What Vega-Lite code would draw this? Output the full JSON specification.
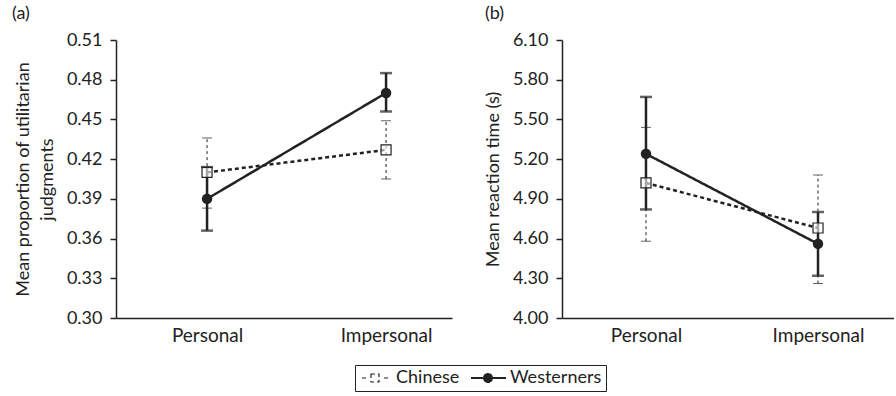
{
  "$schema": "https://vega.github.io/schema/vega-lite/v6.json",
  "padding": {"left": 12, "top": 5, "right": 0, "bottom": 0},
  "background": "white",
  "config": {
    "font": "Lato",
    "view": {"stroke": null},
    "axis": {"labelFont": "Lato", "titleFont": "Lato", "labelFontSize": 18, "titleFontSize": 18, "titleFontWeight": "normal", "labelColor": "#222", "titleColor": "#222", "domainColor": "#222", "tickColor": "#222", "domainWidth": 1.5, "tickWidth": 1.5, "grid": false, "labelOverlap": false},
    "title": {"font": "Lato", "fontSize": 18, "fontWeight": "normal", "color": "#222", "anchor": "start"},
    "legend": {"labelFont": "Lato", "labelFontSize": 18, "labelColor": "#222"}
  },
  "datasets": {
    "a": [
      {"condition": "Personal", "group": "Chinese", "mean": 0.41, "lo": 0.383, "hi": 0.436},
      {"condition": "Impersonal", "group": "Chinese", "mean": 0.427, "lo": 0.405, "hi": 0.449},
      {"condition": "Personal", "group": "Westerners", "mean": 0.39, "lo": 0.366, "hi": 0.414},
      {"condition": "Impersonal", "group": "Westerners", "mean": 0.47, "lo": 0.456, "hi": 0.485}
    ],
    "b": [
      {"condition": "Personal", "group": "Chinese", "mean": 5.02, "lo": 4.58, "hi": 5.44},
      {"condition": "Impersonal", "group": "Chinese", "mean": 4.68, "lo": 4.26, "hi": 5.08},
      {"condition": "Personal", "group": "Westerners", "mean": 5.24, "lo": 4.82, "hi": 5.67},
      {"condition": "Impersonal", "group": "Westerners", "mean": 4.56, "lo": 4.32, "hi": 4.8}
    ]
  },
  "spacing": 32,
  "hconcat": [
    {
      "width": 336,
      "height": 278,
      "title": {"text": "(a)", "dx": -104, "frame": "group", "offset": 8},
      "data": {"name": "a"},
      "encoding": {
        "x": {"field": "condition", "type": "ordinal", "sort": ["Personal", "Impersonal"], "scale": {"type": "point", "padding": 0.4385, "align": 0.58}, "axis": {"title": null, "ticks": false, "labelAngle": 0, "labelPadding": 8, "labelFontSize": 19}}
      },
      "layer": [
        {
          "mark": {"type": "line", "color": "#222", "strokeWidth": 2.5},
          "encoding": {
            "y": {"field": "mean", "type": "quantitative", "scale": {"domain": [0.3, 0.51], "zero": false, "nice": false}, "axis": {"values": [0.3, 0.33, 0.36, 0.39, 0.42, 0.45, 0.48, 0.51], "tickCount": 10, "format": ".2f", "labelOverlap": false, "tickSize": 6, "labelPadding": 8, "title": ["Mean proportion of utilitarian", "judgments"], "titlePadding": 10, "titleLineHeight": 24}},
            "strokeDash": {"field": "group", "type": "nominal", "scale": {"domain": ["Chinese", "Westerners"], "range": [[4, 3], [1, 0]]},
              "legend": {"title": null, "orient": "none", "direction": "horizontal", "legendX": 239, "legendY": 325, "strokeColor": "#222", "padding": 4, "symbolStrokeWidth": 2, "symbolStrokeColor": "#222", "columnPadding": 7, "labelOffset": 19,
                "encode": {"symbols": {"update": {
                  "size": {"value": 400},
                  "shape": {"signal": "datum.value === 'Chinese' ? 'M-0.6,0H-0.2M0.3,-0.4H1.1V0.4H0.3ZM1.6,0H2.1' : 'M-1.1,0H2.4M0.2,0A0.4,0.4,0,1,1,1,0A0.4,0.4,0,1,1,0.2,0'"},
                  "fill": {"signal": "datum.value === 'Chinese' ? 'white' : '#222'"},
                  "stroke": {"value": "#222"},
                  "strokeWidth": {"signal": "datum.value === 'Chinese' ? 1.2 : 2"}
                }}}}}
          }
        },
        {
          "transform": [{"filter": "datum.group === 'Chinese'"}],
          "mark": {"type": "rule", "color": "#222", "strokeWidth": 1, "strokeDash": [3, 3]},
          "encoding": {"y": {"field": "lo", "type": "quantitative"}, "y2": {"field": "hi"}}
        },
        {
          "transform": [{"filter": "datum.group === 'Chinese'"}, {"fold": ["lo", "hi"], "as": ["end", "val"]}],
          "mark": {"type": "tick", "color": "#222", "thickness": 1, "size": 10, "orient": "horizontal", "strokeDash": [2, 3]},
          "encoding": {"y": {"field": "val", "type": "quantitative"}}
        },
        {
          "transform": [{"filter": "datum.group === 'Westerners'"}],
          "mark": {"type": "rule", "color": "#222", "strokeWidth": 2.5},
          "encoding": {"y": {"field": "lo", "type": "quantitative"}, "y2": {"field": "hi"}}
        },
        {
          "transform": [{"filter": "datum.group === 'Westerners'"}, {"fold": ["lo", "hi"], "as": ["end", "val"]}],
          "mark": {"type": "tick", "color": "#222", "thickness": 2.5, "size": 12, "orient": "horizontal"},
          "encoding": {"y": {"field": "val", "type": "quantitative"}}
        },
        {
          "transform": [{"filter": "datum.group === 'Chinese'"}],
          "mark": {"type": "point", "shape": "square", "size": 100, "filled": false, "fill": "white", "fillOpacity": 0.6, "stroke": "#222", "strokeWidth": 1.2, "opacity": 1},
          "encoding": {"y": {"field": "mean", "type": "quantitative"}}
        },
        {
          "transform": [{"filter": "datum.group === 'Westerners'"}],
          "mark": {"type": "point", "shape": "circle", "size": 110, "filled": true, "color": "#222", "opacity": 1},
          "encoding": {"y": {"field": "mean", "type": "quantitative"}}
        }
      ]
    },
    {
      "width": 332,
      "height": 278,
      "title": {"text": "(b)", "dx": -77, "frame": "group", "offset": 8},
      "data": {"name": "b"},
      "encoding": {
        "x": {"field": "condition", "type": "ordinal", "sort": ["Personal", "Impersonal"], "scale": {"type": "point", "padding": 0.465, "align": 0.525}, "axis": {"title": null, "ticks": false, "labelAngle": 0, "labelPadding": 8, "labelFontSize": 19}}
      },
      "layer": [
        {
          "mark": {"type": "line", "color": "#222", "strokeWidth": 2.5},
          "encoding": {
            "y": {"field": "mean", "type": "quantitative", "scale": {"domain": [4.0, 6.1], "zero": false, "nice": false}, "axis": {"values": [4.0, 4.3, 4.6, 4.9, 5.2, 5.5, 5.8, 6.1], "tickCount": 10, "format": ".2f", "labelOverlap": false, "tickSize": 6, "labelPadding": 8, "title": "Mean reaction time (s)", "titlePadding": 10}},
            "strokeDash": {"field": "group", "type": "nominal", "scale": {"domain": ["Chinese", "Westerners"], "range": [[4, 3], [1, 0]]}, "legend": null}
          }
        },
        {
          "transform": [{"filter": "datum.group === 'Chinese'"}],
          "mark": {"type": "rule", "color": "#222", "strokeWidth": 1, "strokeDash": [3, 3]},
          "encoding": {"y": {"field": "lo", "type": "quantitative"}, "y2": {"field": "hi"}}
        },
        {
          "transform": [{"filter": "datum.group === 'Chinese'"}, {"fold": ["lo", "hi"], "as": ["end", "val"]}],
          "mark": {"type": "tick", "color": "#222", "thickness": 1, "size": 10, "orient": "horizontal", "strokeDash": [2, 3]},
          "encoding": {"y": {"field": "val", "type": "quantitative"}}
        },
        {
          "transform": [{"filter": "datum.group === 'Westerners'"}],
          "mark": {"type": "rule", "color": "#222", "strokeWidth": 2.5},
          "encoding": {"y": {"field": "lo", "type": "quantitative"}, "y2": {"field": "hi"}}
        },
        {
          "transform": [{"filter": "datum.group === 'Westerners'"}, {"fold": ["lo", "hi"], "as": ["end", "val"]}],
          "mark": {"type": "tick", "color": "#222", "thickness": 2.5, "size": 12, "orient": "horizontal"},
          "encoding": {"y": {"field": "val", "type": "quantitative"}}
        },
        {
          "transform": [{"filter": "datum.group === 'Chinese'"}],
          "mark": {"type": "point", "shape": "square", "size": 100, "filled": false, "fill": "white", "fillOpacity": 0.6, "stroke": "#222", "strokeWidth": 1.2, "opacity": 1},
          "encoding": {"y": {"field": "mean", "type": "quantitative"}}
        },
        {
          "transform": [{"filter": "datum.group === 'Westerners'"}],
          "mark": {"type": "point", "shape": "circle", "size": 110, "filled": true, "color": "#222", "opacity": 1},
          "encoding": {"y": {"field": "mean", "type": "quantitative"}}
        }
      ]
    }
  ]
}
